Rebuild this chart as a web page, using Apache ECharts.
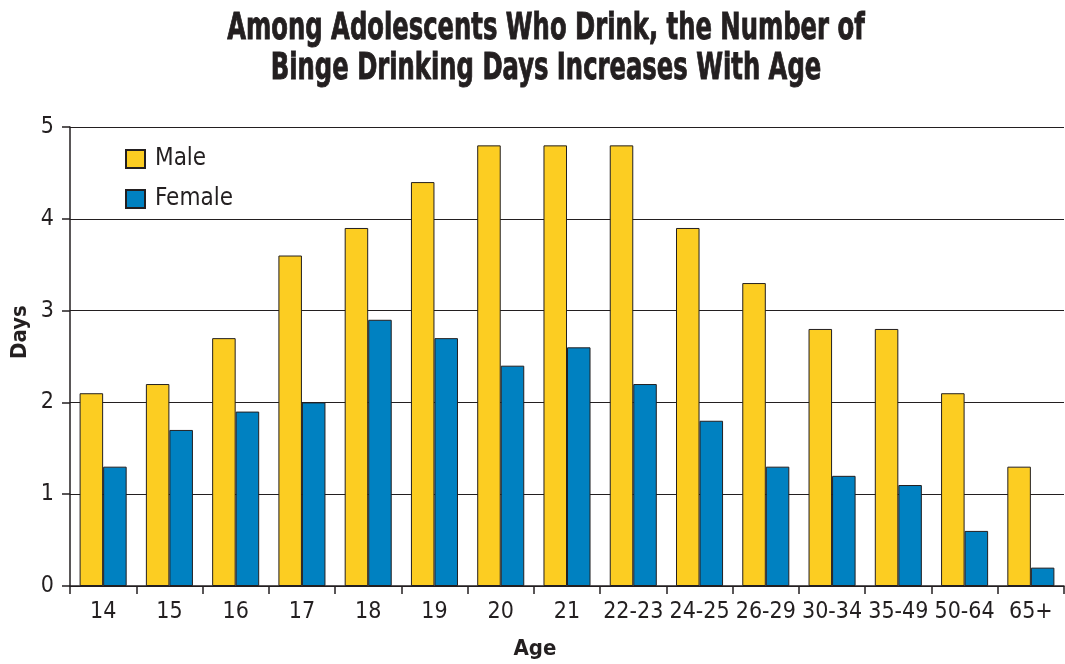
<!DOCTYPE html>
<html>
<head>
<meta charset="utf-8">
<script src="https://cdn.jsdelivr.net/npm/echarts@6/dist/echarts.min.js"></script>
<style>
  html, body { margin: 0; padding: 0; background: #fff; }
  #chart { width: 1065px; height: 664px; }
</style>
</head>
<body>
<div id="chart"></div>
<script>
// Age groups along the x axis
const ages = ['14', '15', '16', '17', '18', '19', '20', '21', '22-23', '24-25', '26-29', '30-34', '35-49', '50-64', '65+'];
// Average binge drinking days per month
const maleDays = [2.1, 2.2, 2.7, 3.6, 3.9, 4.4, 4.8, 4.8, 4.8, 3.9, 3.3, 2.8, 2.8, 2.1, 1.3];
const femaleDays = [1.3, 1.7, 1.9, 2.0, 2.9, 2.7, 2.4, 2.6, 2.2, 1.8, 1.3, 1.2, 1.1, 0.6, 0.2];
const dayTicks = [0, 1, 2, 3, 4, 5];
const titleLines = ['Among Adolescents Who Drink, the Number of', 'Binge Drinking Days Increases With Age'];

const ink = '#231f20';
const narrow = '"DejaVu Sans Condensed", "Liberation Sans Narrow", Arial, sans-serif';

const chart = echarts.init(document.getElementById('chart'), null, { renderer: 'canvas' });

// Condensed heavy heading: bold text squeezed horizontally, with a thin outline for extra weight
const headingStyle = (text) => ({
  text: text,
  font: 'bold 38px ' + narrow,
  fill: ink,
  stroke: ink,
  lineWidth: 0.9,
  align: 'center',
  verticalAlign: 'middle'
});

chart.setOption({
  animation: false,
  backgroundColor: '#ffffff',
  graphic: [
    { type: 'text', x: 546, y: 29, scaleX: 0.71, style: headingStyle(titleLines[0]) },
    { type: 'text', x: 546, y: 69, scaleX: 0.71, style: headingStyle(titleLines[1]) },
    {
      type: 'text', x: 20, y: 332, rotation: Math.PI / 2,
      style: { text: 'Days', font: 'bold 22px ' + narrow, fill: ink, align: 'center', verticalAlign: 'middle' }
    },
    {
      type: 'text', x: 535, y: 649,
      style: { text: 'Age', font: 'bold 22px ' + narrow, fill: ink, align: 'center', verticalAlign: 'middle' }
    }
  ],
  legend: {
    orient: 'vertical',
    left: 125,
    top: 147,
    padding: 0,
    itemWidth: 19,
    itemHeight: 18,
    itemGap: 16,
    icon: 'rect',
    textStyle: { fontFamily: narrow, fontSize: 24, color: ink, padding: [0, 0, 0, 5] },
    data: ['Male', 'Female']
  },
  grid: { left: 70, right: 1, top: 127, bottom: 78, outerBoundsMode: 'none', containLabel: false },
  xAxis: {
    type: 'category',
    data: ages,
    axisLine: { lineStyle: { color: ink, width: 1.5 } },
    axisTick: { show: true, interval: 0, length: 8, lineStyle: { color: ink, width: 1.5 } },
    axisLabel: { interval: 0, margin: 15, fontFamily: narrow, fontSize: 23, color: ink }
  },
  yAxis: {
    type: 'value',
    min: dayTicks[0],
    max: dayTicks[dayTicks.length - 1],
    interval: 1,
    axisLine: { show: true, lineStyle: { color: ink, width: 1.5 } },
    axisTick: { show: true, length: 8, lineStyle: { color: ink, width: 1.5 } },
    axisLabel: { margin: 16, fontFamily: narrow, fontSize: 23, color: ink },
    splitLine: { show: true, lineStyle: { color: ink, width: 1.2 } }
  },
  series: [
    {
      name: 'Male',
      type: 'bar',
      data: maleDays,
      barGap: '0%',
      barCategoryGap: '29%',
      itemStyle: { color: '#fccd22', borderColor: ink, borderWidth: 1 }
    },
    {
      name: 'Female',
      type: 'bar',
      data: femaleDays,
      itemStyle: { color: '#0081c1', borderColor: ink, borderWidth: 1 }
    }
  ]
});
</script>
</body>
</html>
